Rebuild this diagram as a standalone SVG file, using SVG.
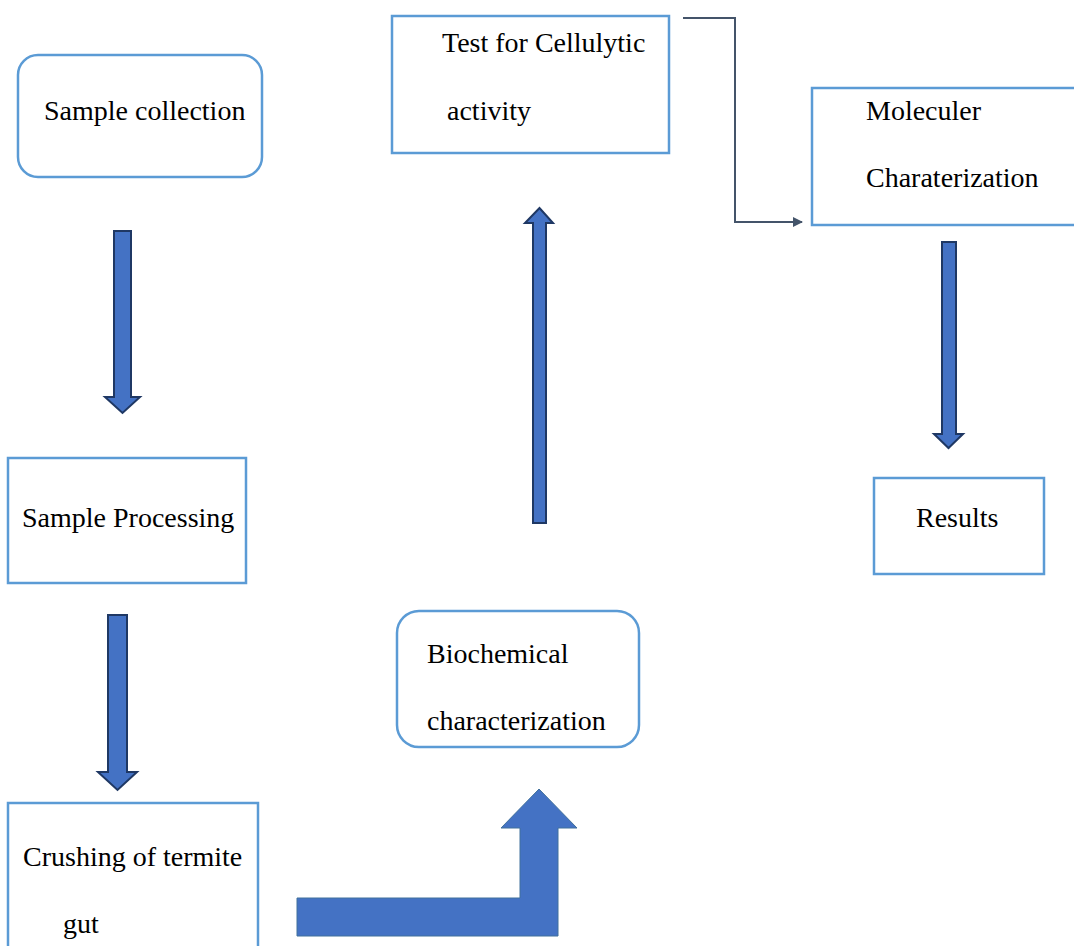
<svg xmlns="http://www.w3.org/2000/svg" width="1074" height="946" viewBox="0 0 1074 946">
<style>
.box{fill:#fff;stroke:#5B9BD5;stroke-width:2.5}
.t{font-family:"Liberation Serif","Times New Roman",serif;font-size:28px;fill:#000}
.blk{fill:#4472C4;stroke:#1F3864;stroke-width:2;stroke-linejoin:miter}
.bent{fill:#4472C4;stroke:#41719C;stroke-width:1}
.conn{fill:none;stroke:#44546A;stroke-width:2}
</style>
<defs>
<marker id="ah" markerWidth="10" markerHeight="10" refX="9" refY="5" orient="auto" markerUnits="userSpaceOnUse">
<path d="M0,0 L10,5 L0,10 Z" fill="#44546A"/>
</marker>
</defs>
<rect width="1074" height="946" fill="#fff"/>
<g id="sample-collection">
<rect class="box" x="18" y="55" width="244" height="122" rx="20"/>
<text class="t" x="44" y="120">Sample collection</text>
</g>
<g id="sample-processing">
<rect class="box" x="8" y="458" width="238" height="125"/>
<text class="t" x="22" y="527">Sample Processing</text>
</g>
<g id="crushing">
<rect class="box" x="8" y="803" width="250" height="160"/>
<text class="t" x="23" y="866">Crushing of termite</text>
<text class="t" x="63" y="933">gut</text>
</g>
<g id="biochemical">
<rect class="box" x="397" y="611" width="242" height="136" rx="22"/>
<text class="t" x="427" y="663">Biochemical</text>
<text class="t" x="427" y="730">characterization</text>
</g>
<g id="test-cellulytic">
<rect class="box" x="392" y="16" width="277" height="137"/>
<text class="t" x="442" y="52">Test for Cellulytic</text>
<text class="t" x="447" y="120">activity</text>
</g>
<g id="molecular">
<rect class="box" x="812" y="88" width="270" height="137"/>
<text class="t" x="866" y="120">Moleculer</text>
<text class="t" x="866" y="187">Charaterization</text>
</g>
<g id="results">
<rect class="box" x="874" y="478" width="170" height="96"/>
<text class="t" x="916" y="527">Results</text>
</g>
<g id="connectors">
<path class="blk" d="M114,231 L131,231 L131,397 L140,397 L122.5,413 L105,397 L114,397 Z"/>
<path class="blk" d="M108,615 L127,615 L127,772 L137,772 L117.5,790 L98,772 L108,772 Z"/>
<path class="bent" d="M297,898 L520,898 L520,828 L501,828 L539,789 L577,828 L558,828 L558,936 L297,936 Z"/>
<path class="blk" d="M533,523 L533,223 L525,223 L539.5,208 L553,223 L546,223 L546,523 Z"/>
<path class="conn" d="M683,18 L735,18 L735,222 L802,222" marker-end="url(#ah)"/>
<path class="blk" d="M942,242 L956,242 L956,434 L963,434 L948.5,448 L934,434 L942,434 Z"/>
</g>
</svg>
